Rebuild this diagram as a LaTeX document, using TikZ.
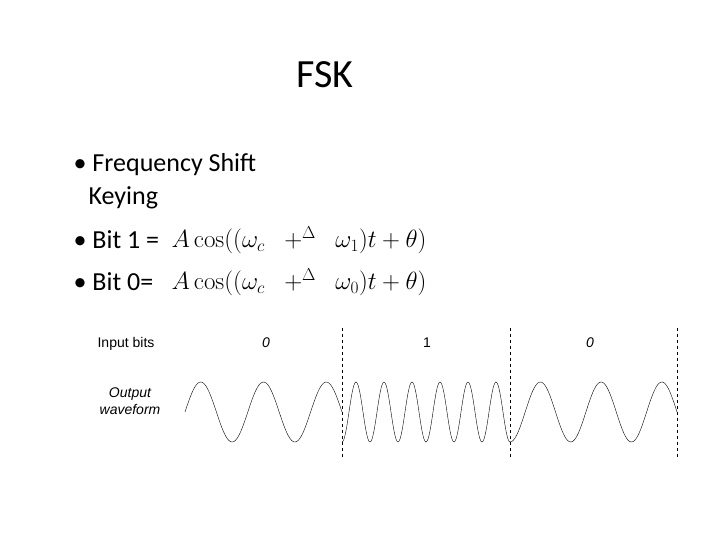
\documentclass[tikz,border=0pt]{standalone}
\usepackage[no-math]{fontspec}
\setmainfont{Carlito}
\newfontfamily\labelfont{Liberation Sans}
\tikzset{
	bullet/.style={anchor=west,font=\fontsize{26}{30}\selectfont},%
	formula/.style={anchor=west,font=\fontsize{27}{30}\selectfont},%
	small/.style={font=\labelfont\fontsize{14}{17}\selectfont\itshape},%
	wave/.style={thin},%
	boundary/.style={dashed,thin},%
}
\def\wavemid{412}
\def\amp{30}
\begin{document}
\begin{tikzpicture}[%
		x=1pt,y=-1pt,%
		]
		\useasboundingbox (0,0) rectangle (720,540);
		\node (title) at (325,75) {\fontsize{40}{44}\selectfont FSK};
		\node[bullet] (b1) at (70,165) {\textbullet\hspace{6pt}Frequency Shift};
		\node[bullet] (b2) at (85,198) {Keying};
		\node[bullet] (b3) at (70,240) {\textbullet\hspace{6pt}Bit 1 =};
		\node[bullet] (b4) at (70,282) {\textbullet\hspace{6pt}Bit 0=};
		\node[formula] (f1) at (168,240) {$A\cos((\omega_{c}\;\;+^{\Delta}\;\;\omega_{1})t+\theta)$};
		\node[formula] (f0) at (168,282) {$A\cos((\omega_{c}\;\;+^{\Delta}\;\;\omega_{0})t+\theta)$};
		\node[small,font=\labelfont\fontsize{14}{17}\selectfont] (inbits) at (126,344) {Input bits};
		\node[small,align=center] (outwave) at (130,401) {Output\\waveform};
		\node[small] (bit0a) at (266,343) {0};
		\node[small,font=\labelfont\fontsize{14}{17}\selectfont] (bit1) at (427,343) {1};
		\node[small] (bit0b) at (590,343) {0};
		\foreach \xx in {342,510,677}
			\draw[boundary] (\xx,328) -- (\xx,458);
		\draw[wave] plot[domain=185:342,samples=120,smooth] (\x,{\wavemid-\amp*sin((\x-185)*5.7325)});
		\draw[wave] plot[domain=342:510,samples=200,smooth] (\x,{\wavemid+\amp*cos((\x-342)*12.857)});
		\draw[wave] plot[domain=510:677,samples=120,smooth] (\x,{\wavemid+\amp*cos((\x-510)*5.928)});
	\end{tikzpicture}
\end{document}
